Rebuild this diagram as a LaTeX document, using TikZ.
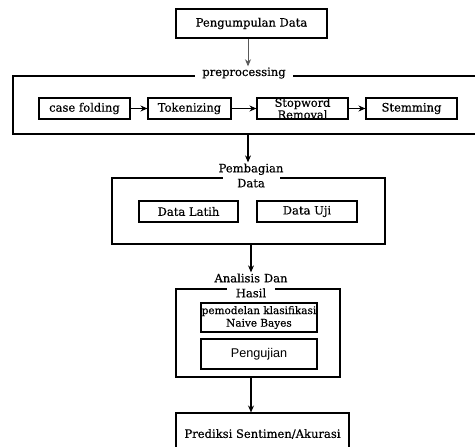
\documentclass[tikz,border=0pt]{standalone}
\usepackage{fontspec}
\setmainfont[FakeBold=0.5]{DejaVu Serif}
\setsansfont{Liberation Sans}
\usetikzlibrary{arrows.meta}
\begin{document}
\begin{tikzpicture}[x=1bp,y=-1bp,
  box/.style={draw, line width=1.1pt, inner sep=0pt, align=center},
  frame/.style={draw, line width=1.1pt, inner sep=0pt},
  title/.style={fill=white, inner xsep=0pt, inner ysep=1pt, align=center},
  arr/.style={-{Stealth[length=7pt,width=6pt]}, line width=1.1pt},
  font=\fontsize{11.6}{15}\selectfont]
  \useasboundingbox (0,0) rectangle (475,447);

  \node[box, minimum width=151bp, minimum height=29bp] (collect) at (251.5,23.5) {Pengumpulan Data};

  % preprocessing
  \node[frame, minimum width=470bp, minimum height=58bp] (prep) at (248,105) {};
  \node[title, text width=98bp] (preptitle) at (244,73) {preprocessing};
  \node[box, minimum width=91bp, minimum height=21bp] (fold) at (84.5,108.5) {case folding};
  \node[box, minimum width=83bp, minimum height=21bp] (token) at (189.5,108.5) {Tokenizing};
  \node[box, minimum width=91bp, minimum height=21bp, font=\fontsize{11.4}{12}\selectfont] (stop) at (302.5,108.5) {Stopword\\Removal};
  \node[box, minimum width=91bp, minimum height=21bp] (stem) at (411.5,108.5) {Stemming};
  \draw[arr] (fold) -- (token);
  \draw[arr] (token) -- (stop);
  \draw[arr] (stop) -- (stem);
  \draw[arr, line width=0.7pt, gray!70!black] (collect.south -| prep) -- (prep |- preptitle.north);

  % pembagian data
  \node[frame, minimum width=273bp, minimum height=66bp] (split) at (248.5,211) {};
  \node[title, text width=57bp] (splittitle) at (251,175.5) {\makebox[0pt]{Pembagian}\\Data};
  \node[box, minimum width=99bp, minimum height=21bp] (train) at (188.5,211.5) {Data Latih};
  \node[box, minimum width=100bp, minimum height=21bp] (testdata) at (307,211.5) {Data Uji};
  \draw[arr] (prep.south) -- (prep.south |- splittitle.north);

  % analisis dan hasil
  \node[frame, minimum width=164bp, minimum height=88bp] (anal) at (258,333) {};
  \node[title, text width=48bp] (analtitle) at (251,285.5) {\makebox[0pt]{Analisis Dan}\\Hasil};
  \node[box, minimum width=116bp, minimum height=29bp, font=\fontsize{10.5}{12.6}\selectfont] (model) at (259,317.5) {pemodelan klasifikasi\\Naive Bayes};
  \node[box, minimum width=116bp, minimum height=30bp, font=\sffamily\fontsize{12.7}{14}\selectfont] (test) at (259,354) {Pengujian};
  \draw[arr] (split.south -| analtitle) -- (analtitle.north);

  \node[box, minimum width=173bp, minimum height=42bp] (predict) at (262.5,434) {Prediksi Sentimen/Akurasi};
  \draw[arr] (anal.south -| analtitle) -- (predict.north -| analtitle);
\end{tikzpicture}
\end{document}
